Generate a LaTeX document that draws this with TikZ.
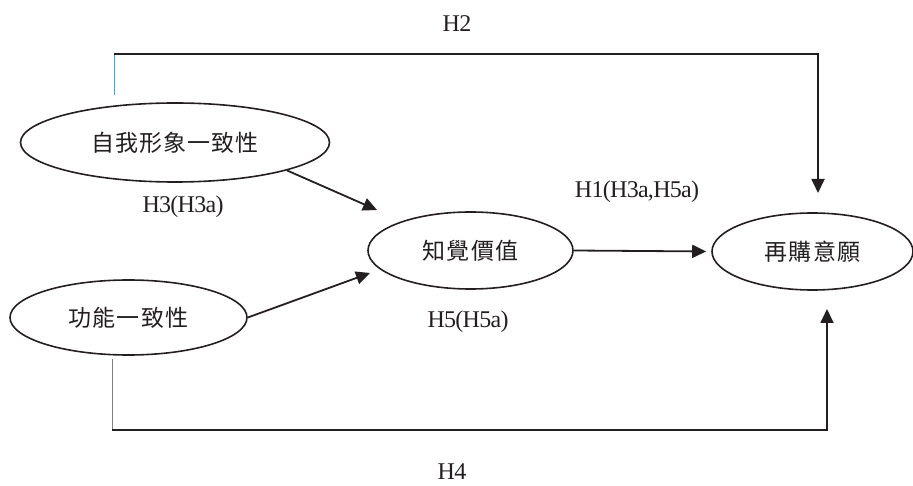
\documentclass[tikz,border=0pt]{standalone}
\usepackage{fontspec}
\setmainfont{Liberation Serif}
\newfontfamily\cjkfont[LetterSpace=5]{Noto Sans CJK TC}
\usetikzlibrary{shapes.geometric,arrows.meta}
\definecolor{ink}{HTML}{231F20}
\definecolor{bluelink}{HTML}{5B9BD5}
\definecolor{greylink}{HTML}{808080}
\begin{document}
\begin{tikzpicture}[x=1pt,y=-1pt,
  oval/.style={ellipse,draw=ink,line width=1.6pt,inner sep=0pt,font=\cjkfont\fontsize{23}{26}\selectfont,text=ink},
  lab/.style={font=\addfontfeatures{LetterSpace=-3}\fontsize{24}{28}\selectfont,text=ink,inner sep=0pt},
  link/.style={draw=ink,line width=1.8pt},
  arr/.style={link,-{Triangle[length=14pt,width=13pt]}}]
\useasboundingbox (0,0) rectangle (913,486);
\node[oval,minimum width=309pt,minimum height=79pt] (e1) at (175,142.5) {自我形象一致性};
\node[oval,minimum width=237pt,minimum height=75pt] (e2) at (128.5,317.5) {功能一致性};
\node[oval,minimum width=205pt,minimum height=77pt] (e3) at (470.5,250.5) {知覺價值};
\node[oval,minimum width=201pt,minimum height=77pt] (e4) at (812.5,251.5) {再購意願};
% coordinates
\coordinate (a1) at (377,210);
\coordinate (a2) at (370,273);
\coordinate (h2s) at (114,95);
\coordinate (h2a) at (114,54);
\coordinate (h2b) at (818,54);
\coordinate (h2e) at (818,193);
\coordinate (h4s) at (112,359);
\coordinate (h4a) at (112,430);
\coordinate (h4b) at (827,430);
\coordinate (h4e) at (827,309);
% arrows
\draw[arr] (e1.-14.5) -- (a1);
\draw[arr] (e2.east) -- (a2);
\draw[arr,shorten >=5pt] (e3.east) -- (e4.west);
\draw[draw=bluelink,line width=1pt] (h2s) -- (h2a);
\draw[arr] (h2a) -- (h2b) -- (h2e);
\draw[draw=greylink,line width=1pt] (h4s) -- (h4a);
\draw[arr] (h4a) -- (h4b) -- (h4e);
% labels
\node[lab] (l2) at (457,24) {H2};
\node[lab] (l3) at (183,207) {H3(H3a)};
\node[lab] (l1) at (637,192) {H1(H3a,H5a)};
\node[lab] (l5) at (468,322) {H5(H5a)};
\node[lab] (l4) at (452,472) {H4};
\end{tikzpicture}
\end{document}
